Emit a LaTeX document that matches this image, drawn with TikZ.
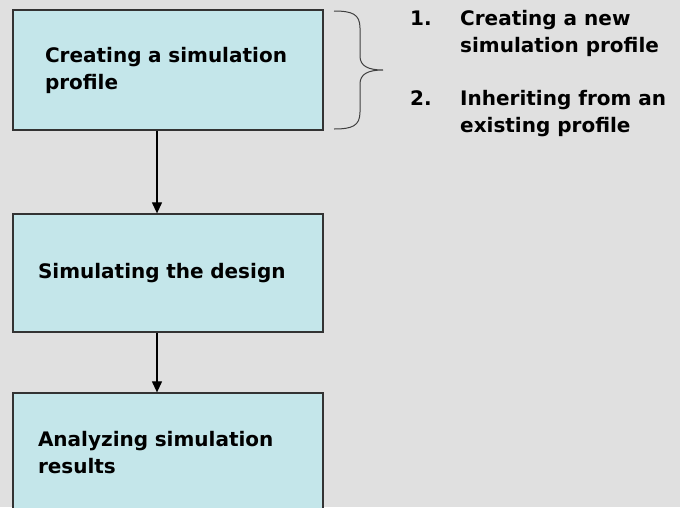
\documentclass[tikz,border=0pt]{standalone}
\usepackage{fontspec}
\setmainfont{DejaVu Sans}
\usetikzlibrary{positioning, arrows.meta}
\definecolor{bggray}{HTML}{E0E0E0}
\definecolor{boxcyan}{HTML}{C4E6EA}
\definecolor{edgegray}{HTML}{333333}
\definecolor{bracegray}{HTML}{404040}

\begin{document}
\begin{tikzpicture}[x=1pt, y=-1pt, font = \fontsize{20}{27}\selectfont\bfseries,
    stage/.style = {draw=edgegray, line width=1.3pt, fill=boxcyan, text width=260pt,
        minimum width=310pt, minimum height=120pt, align=left, inner sep=0pt},
    flow/.style = {-{Triangle[width=10pt,length=11pt]}, line width=1.2pt},
    item/.style = {anchor=base west, align=left, inner sep=0pt}]
    \clip (0,0) rectangle (680,507);
    \fill[bggray] (0,0) rectangle (680,507);

    \node[stage, text width=246pt] (create) at (168,70) {Creating a simulation\\profile};
    \node[stage, minimum height=118pt] (simulate) at (168,273) {Simulating the design};
    \node[stage] (analyze) at (168,453) {Analyzing simulation\\results};

    % list of ways to make a profile (base = last line)
    \node[item] (num1) at (410,25) {1.};
    \node[item] (newprof) at (460,52) {Creating a new\\simulation profile};
    \node[item] (num2) at (410,105) {2.};
    \node[item] (inherit) at (460,132) {Inheriting from an\\existing profile};

    \coordinate (spine) at (157,0);
    \draw[flow] (create.south -| spine) -- (simulate.north -| spine);
    \draw[flow] (simulate.south -| spine) -- (analyze.north -| spine);

    % brace
    \coordinate (brtop) at (334,11);
    \coordinate (brtip) at (383,70);
    \coordinate (brbot) at (334,129);
    \draw[bracegray, line width=1pt] (brtop) .. controls (352,11) and (360,14) .. (360,28)
        -- (360,56) .. controls (360,66) and (368,70) .. (brtip)
        .. controls (368,70) and (360,74) .. (360,84)
        -- (360,112) .. controls (360,126) and (352,129) .. (brbot);
\end{tikzpicture}
\end{document}
